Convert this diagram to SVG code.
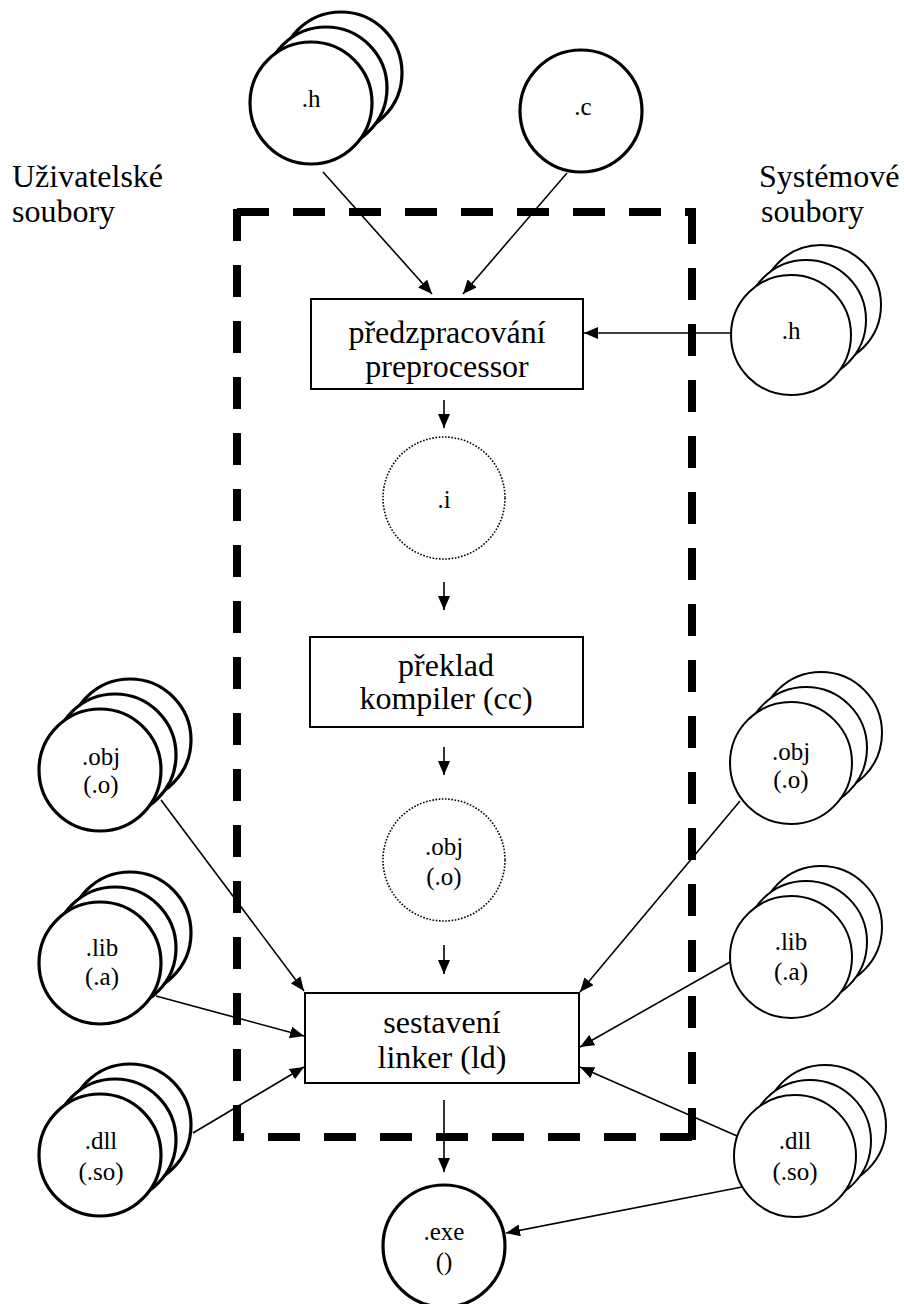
<svg xmlns="http://www.w3.org/2000/svg" width="904" height="1304" viewBox="0 0 904 1304">
  <style>
    .bg { fill: #ffffff; }
    .thick { fill: #ffffff; stroke: #000000; stroke-width: 3.2; }
    .thin { fill: #ffffff; stroke: #000000; stroke-width: 2; }
    .dotted { fill: #ffffff; stroke: #000000; stroke-width: 1.6; stroke-dasharray: 1.6 1.6; }
    .box { fill: #ffffff; stroke: #000000; stroke-width: 2; }
    .frame { fill: none; stroke: #000000; stroke-width: 8; stroke-dasharray: 32 24; }
    .edge { fill: none; stroke: #000000; stroke-width: 1.6; marker-end: url(#arrow); }
    text { font-family: 'Liberation Serif', 'DejaVu Serif', serif; fill: #000000; }
    .lbl { font-size: 25px; text-anchor: middle; }
    .big { font-size: 32px; text-anchor: middle; }
    .side { font-size: 32px; }
  </style>
  <defs>
    <marker id="arrow" markerUnits="userSpaceOnUse" markerWidth="14" markerHeight="12" refX="14" refY="6" orient="auto">
      <path d="M0,0 L14,6 L0,12 z" fill="#000000"/>
    </marker>
  </defs>

  <rect class="bg" x="0" y="0" width="904" height="1304"/>

  <g font-family="Liberation Serif, DejaVu Serif, serif">
  <!-- side captions -->
  <g id="caption-user">
    <text class="side" x="12" y="187">Uživatelské</text>
    <text class="side" x="12" y="222">soubory</text>
  </g>
  <g id="caption-system">
    <text class="side" x="759" y="187">Systémové</text>
    <text class="side" x="761" y="222">soubory</text>
  </g>

  <!-- dashed toolchain frame, each side drawn separately -->
  <g id="frame">
    <path class="frame" d="M237,212 H696"/>
    <path class="frame" d="M692,212 V1141"/>
    <path class="frame" d="M692,1137 H233"/>
    <path class="frame" d="M237,1137 V208"/>
  </g>

  <!-- connectors -->
  <g id="connectors">
    <line class="edge" x1="323" y1="172" x2="432" y2="294"/>
    <line class="edge" x1="567" y1="173" x2="463" y2="294"/>
    <line class="edge" x1="731" y1="333" x2="584" y2="333"/>
    <line class="edge" x1="444" y1="400" x2="444" y2="428"/>
    <line class="edge" x1="444" y1="582" x2="444" y2="610"/>
    <line class="edge" x1="444" y1="747" x2="444" y2="775"/>
    <line class="edge" x1="444" y1="945" x2="444" y2="974"/>
    <line class="edge" x1="444" y1="1100" x2="444" y2="1172"/>
    <line class="edge" x1="161" y1="800" x2="304" y2="991"/>
    <line class="edge" x1="156" y1="996" x2="304" y2="1036"/>
    <line class="edge" x1="193" y1="1133" x2="304" y2="1067"/>
    <line class="edge" x1="740" y1="801" x2="580" y2="992"/>
    <line class="edge" x1="730" y1="962" x2="580" y2="1047"/>
    <line class="edge" x1="737" y1="1136" x2="580" y2="1067"/>
    <line class="edge" x1="742" y1="1187" x2="506" y2="1233"/>
  </g>

  <!-- user header files (stack) -->
  <g id="user-h">
    <circle class="thick" cx="341" cy="73" r="61"/>
    <circle class="thick" cx="326" cy="88" r="61"/>
    <circle class="thick" cx="311" cy="103" r="61"/>
    <text class="lbl" x="311" y="107">.h</text>
  </g>

  <!-- user source file -->
  <g id="user-c">
    <circle class="thick" cx="581" cy="111" r="61"/>
    <text class="lbl" x="583" y="115">.c</text>
  </g>

  <!-- system header files (stack) -->
  <g id="sys-h">
    <circle class="thin" cx="821" cy="305" r="60"/>
    <circle class="thin" cx="806" cy="320" r="60"/>
    <circle class="thin" cx="791" cy="335" r="60"/>
    <text class="lbl" x="791" y="339">.h</text>
  </g>

  <!-- preprocessor stage -->
  <g id="preprocessor">
    <rect class="box" x="311" y="299" width="272" height="90"/>
    <text class="big" x="447" y="343">předzpracování</text>
    <text class="big" x="447" y="377">preprocessor</text>
  </g>

  <!-- preprocessed intermediate -->
  <g id="file-i">
    <circle class="dotted" cx="444" cy="498" r="61"/>
    <text class="lbl" x="444" y="508">.i</text>
  </g>

  <!-- compiler stage -->
  <g id="compiler">
    <rect class="box" x="310" y="637" width="273" height="90"/>
    <text class="big" x="446" y="676">překlad</text>
    <text class="big" x="446" y="709">kompiler (cc)</text>
  </g>

  <!-- compiled object intermediate -->
  <g id="file-obj">
    <circle class="dotted" cx="444" cy="860" r="61"/>
    <text class="lbl" x="444" y="855">.obj</text>
    <text class="lbl" x="444" y="885">(.o)</text>
  </g>

  <!-- linker stage -->
  <g id="linker">
    <rect class="box" x="305" y="993" width="274" height="90"/>
    <text class="big" x="442" y="1033">sestavení</text>
    <text class="big" x="442" y="1068">linker (ld)</text>
  </g>

  <!-- executable -->
  <g id="exe">
    <circle class="thick" cx="444" cy="1246" r="61"/>
    <text class="lbl" x="444" y="1240">.exe</text>
    <text class="lbl" x="444" y="1270">()</text>
  </g>

  <!-- user object files -->
  <g id="user-obj">
    <circle class="thick" cx="130" cy="740" r="61"/>
    <circle class="thick" cx="115" cy="755" r="61"/>
    <circle class="thick" cx="100" cy="770" r="61"/>
    <text class="lbl" x="101" y="765">.obj</text>
    <text class="lbl" x="101" y="793">(.o)</text>
  </g>

  <!-- user static libraries -->
  <g id="user-lib">
    <circle class="thick" cx="130" cy="933" r="61"/>
    <circle class="thick" cx="115" cy="948" r="61"/>
    <circle class="thick" cx="100" cy="963" r="61"/>
    <text class="lbl" x="102" y="956">.lib</text>
    <text class="lbl" x="102" y="985">(.a)</text>
  </g>

  <!-- user shared libraries -->
  <g id="user-dll">
    <circle class="thick" cx="130" cy="1125" r="61"/>
    <circle class="thick" cx="115" cy="1140" r="61"/>
    <circle class="thick" cx="100" cy="1155" r="61"/>
    <text class="lbl" x="101" y="1149">.dll</text>
    <text class="lbl" x="101" y="1180">(.so)</text>
  </g>

  <!-- system object files -->
  <g id="sys-obj">
    <circle class="thin" cx="821" cy="733" r="61"/>
    <circle class="thin" cx="806" cy="748" r="61"/>
    <circle class="thin" cx="791" cy="763" r="61"/>
    <text class="lbl" x="791" y="760">.obj</text>
    <text class="lbl" x="791" y="788">(.o)</text>
  </g>

  <!-- system static libraries -->
  <g id="sys-lib">
    <circle class="thin" cx="821" cy="927" r="61"/>
    <circle class="thin" cx="806" cy="942" r="61"/>
    <circle class="thin" cx="791" cy="957" r="61"/>
    <text class="lbl" x="791" y="950">.lib</text>
    <text class="lbl" x="791" y="980">(.a)</text>
  </g>

  <!-- system shared libraries -->
  <g id="sys-dll">
    <circle class="thin" cx="825" cy="1126" r="61"/>
    <circle class="thin" cx="810" cy="1141" r="61"/>
    <circle class="thin" cx="795" cy="1156" r="61"/>
    <text class="lbl" x="795" y="1149">.dll</text>
    <text class="lbl" x="795" y="1180">(.so)</text>
  </g>
  </g>
</svg>
